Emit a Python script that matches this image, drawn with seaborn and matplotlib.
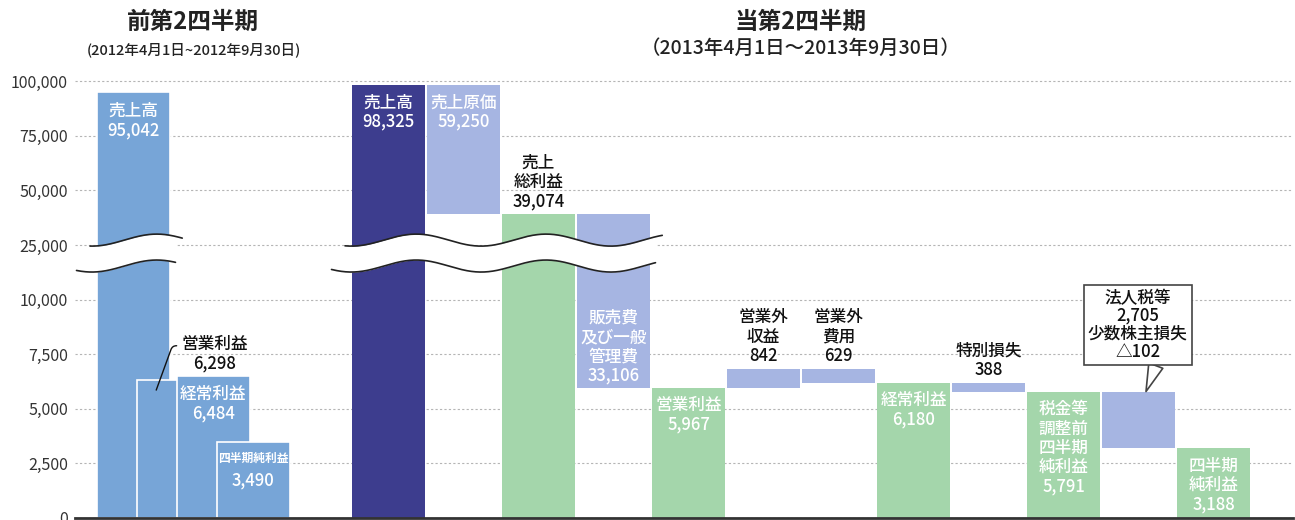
import numpy as np
import pandas as pd
import matplotlib
matplotlib.use('Agg')
import matplotlib.pyplot as plt
import matplotlib.transforms as mtransforms
import seaborn as sns

sns.set_theme(style='white')
plt.rcParams['font.family'] = ['Noto Sans CJK JP', 'DejaVu Sans']
plt.rcParams['axes.unicode_minus'] = False

# 前第2四半期 (2012/4/1~2012/9/30)
prev_items = ['売上高', '営業利益', '経常利益', '四半期純利益']
prev_values = [95042, 6298, 6484, 3490]

# 当第2四半期 (2013/4/1~2013/9/30)
cur_items = ['売上高', '売上原価', '売上総利益', '販売費及び一般管理費', '営業利益',
             '営業外収益', '営業外費用', '経常利益', '特別損失',
             '税金等調整前四半期純利益', '法人税等・少数株主損失', '四半期純利益']
cur_text = ['売上高', '売上原価', '売上\n総利益', '販売費\n及び一般\n管理費', '営業利益',
            '営業外\n収益', '営業外\n費用', '経常利益', '特別損失',
            '税金等\n調整前\n四半期\n純利益', '', '四半期\n純利益']
tax = 2705
minority = -102
cur_amounts = [98325, 59250, 39074, 33106, 5967, 842, 629, 6180, 388, 5791, tax + minority, 3188]
cur_kinds = ['total', 'minus', 'total', 'minus', 'total', 'plus', 'minus',
             'total', 'minus', 'total', 'minus', 'total']
# ラベルの置き方
cur_label_pos = ['in', 'in', 'above', 'in_bottom', 'in', 'above', 'above',
                 'in', 'above', 'in', 'callout', 'in']

yticks = [0, 2500, 5000, 7500, 10000, 25000, 50000, 75000, 100000]

STEEL = '#77a5d7'
NAVY = '#3d3d8e'
PERI = '#a6b5e2'
GREEN = '#a4d6ab'
BAR_W = 0.973


# 縦軸は 10,000 以下と 25,000 以上で目盛間隔が違う (途中を省略)
def fwd(v):
    v = np.asarray(v, dtype=float)
    return np.where(v <= 10000, v / 2500,
                    np.where(v <= 25000, 4 + (v - 10000) / 15000, 5 + (v - 25000) / 25000))


def inv(u):
    u = np.asarray(u, dtype=float)
    return np.where(u <= 4, u * 2500,
                    np.where(u <= 5, 10000 + (u - 4) * 15000, 25000 + (u - 5) * 25000))


# ウォーターフォールの上下端を計算
level = 0
bottoms, tops = [], []
for amt, kind in zip(cur_amounts, cur_kinds):
    if kind == 'total':
        b, t = 0, amt
        level = amt
    elif kind == 'plus':
        b, t = level, level + amt
        level = t
    else:
        b, t = level - amt, level
        level = b
    bottoms.append(b)
    tops.append(t)

cur_pos = np.arange(len(cur_items))
prev_pos = -3.4 + 0.533 * np.arange(len(prev_items))

cur_df = pd.DataFrame({'pos': cur_pos, 'item': cur_items, 'bottom': bottoms,
                       'top': tops, 'kind': cur_kinds})

fig = plt.figure(figsize=(12.95, 5.2), dpi=100)
ax = fig.add_axes([75 / 1295, 2 / 520, 1218 / 1295, 439.5 / 520])

# 合計の棒 (0から)
tot = cur_df[cur_df['kind'] == 'total'].copy()
tot['col'] = ['sales'] + ['profit'] * (len(tot) - 1)
sns.barplot(data=tot, x='pos', y='top', hue='col', order=list(cur_pos),
            hue_order=['sales', 'profit'], palette={'sales': NAVY, 'profit': GREEN},
            dodge=False, width=BAR_W, saturation=1, legend=False, ax=ax,
            linewidth=0, zorder=2)

# 増減の棒
fl = cur_df[cur_df['kind'] != 'total']
ax.bar(fl['pos'], fl['top'] - fl['bottom'], bottom=fl['bottom'], width=BAR_W,
       color=PERI, linewidth=0, zorder=2)

# 前第2四半期の棒 (重ねて描く)
ax.bar(prev_pos, prev_values, width=BAR_W, color=STEEL, edgecolor='white',
       linewidth=1.2, zorder=2)

ax.set_yscale('function', functions=(fwd, inv))
ax.set_ylim(0, float(inv(8.05)))
ax.set_xlim(-4.18, 12.06)
ax.set_yticks(yticks)
ax.set_yticklabels([f'{v:,}' for v in yticks])
ax.set_xticks([])
ax.set_xlabel('')
ax.set_ylabel('')
ax.tick_params(axis='y', length=0, pad=5, labelsize=11.5, labelcolor='#333333')
ax.yaxis.grid(True, linestyle=(0, (2, 2)), color='#b5b5b5', linewidth=0.8)
ax.set_axisbelow(True)
for s in ['left', 'top', 'right']:
    ax.spines[s].set_visible(False)
ax.spines['bottom'].set_color('#333333')
ax.spines['bottom'].set_linewidth(2)

# 省略の波線
WAVE_X0 = -3.09


def wave(x, c):
    return inv(c + 0.11 * np.cos(2 * np.pi * (x - WAVE_X0) / 1.73))


def draw_break(x0, x1):
    top_x = np.linspace(x0 - 0.58, x1 + 0.65, 300)
    bot_x = np.linspace(x0 - 0.76, x1 + 0.56, 300)
    fx = np.linspace(max(top_x[0], bot_x[0]), min(top_x[-1], bot_x[-1]), 300)
    ax.fill_between(fx, wave(fx, 4.615), wave(fx, 5.09), color='white', lw=0, zorder=3)
    ax.plot(top_x, wave(top_x, 5.09), color='#222222', lw=1.2, zorder=4)
    ax.plot(bot_x, wave(bot_x, 4.615), color='#222222', lw=1.2, zorder=4)


big_prev = prev_pos[np.array(prev_values) > 25000]
draw_break(big_prev.min(), big_prev.max())
big_cur = cur_pos[np.array(tops) > 25000]
draw_break(big_cur.min(), big_cur.max())

LS = 1.1
FW = 'medium'

# 前第2四半期のラベル
ax.annotate(f'{prev_items[0]}\n{prev_values[0]:,}', xy=(prev_pos[0], prev_values[0]),
            xytext=(0, -7), textcoords='offset points', ha='center', va='top',
            color='white', fontsize=12, fontweight=FW, linespacing=LS, zorder=5)
ax.annotate(f'{prev_items[1]}\n{prev_values[1]:,}', xy=(prev_pos[1] - 0.23, prev_values[1] * 0.93),
            xytext=(42, 26), textcoords='offset points', ha='center', va='center',
            color='#111111', fontsize=12, fontweight=FW, linespacing=LS, zorder=5,
            arrowprops=dict(arrowstyle='-', color='#111111', lw=1, relpos=(0, 0.72),
                            shrinkA=1, shrinkB=0,
                            connectionstyle='angle,angleA=0,angleB=70,rad=4'))
ax.annotate(f'{prev_items[2]}\n{prev_values[2]:,}', xy=(prev_pos[2], prev_values[2]),
            xytext=(0, -6), textcoords='offset points', ha='center', va='top',
            color='white', fontsize=12, fontweight=FW, linespacing=LS, zorder=5)
ax.annotate(prev_items[3], xy=(prev_pos[3], prev_values[3]),
            xytext=(0, -7), textcoords='offset points', ha='center', va='top',
            color='white', fontsize=8.5, fontweight='bold', zorder=5)
ax.annotate(f'{prev_values[3]:,}', xy=(prev_pos[3], prev_values[3]),
            xytext=(0, -21), textcoords='offset points', ha='center', va='top',
            color='white', fontsize=12, fontweight=FW, zorder=5)

# 当第2四半期のラベル
for i in range(len(cur_items)):
    x = cur_pos[i]
    label = f'{cur_text[i]}\n{cur_amounts[i]:,}'
    where = cur_label_pos[i]
    if where == 'in':
        ax.annotate(label, xy=(x, tops[i]), xytext=(0, -6), textcoords='offset points',
                    ha='center', va='top', color='white', fontsize=12, fontweight=FW,
                    linespacing=LS, zorder=5)
    elif where == 'in_bottom':
        ax.annotate(label, xy=(x, bottoms[i]), xytext=(0, 2), textcoords='offset points',
                    ha='center', va='bottom', color='white', fontsize=12, fontweight=FW,
                    linespacing=LS, zorder=5)
    elif where == 'above':
        ax.annotate(label, xy=(x, tops[i]), xytext=(0, 3), textcoords='offset points',
                    ha='center', va='bottom', color='#111111', fontsize=12, fontweight=FW,
                    linespacing=LS, zorder=5)
    else:
        ax.annotate(f'法人税等\n{tax:,}\n少数株主損失\n△{abs(minority)}',
                    xy=(x + 0.1, tops[i]), xytext=(-6, 48), textcoords='offset points',
                    ha='center', va='center', color='#111111', fontsize=12, fontweight=FW,
                    linespacing=1.0, zorder=6,
                    bbox=dict(boxstyle='square,pad=0.25', fc='white', ec='#444444', lw=1.2),
                    arrowprops=dict(arrowstyle='wedge,tail_width=0.9,shrink_factor=0.5',
                                    fc='white', ec='#444444', lw=1.2, relpos=(0.7, 0),
                                    shrinkA=0, shrinkB=0))

# 見出し
tr = mtransforms.blended_transform_factory(ax.transData, fig.transFigure)
ax.text(prev_pos.mean(), 1 - 22 / 520, '前第2四半期', transform=tr, ha='center',
        va='center', fontsize=17, fontweight='bold', color='#222222')
ax.text(prev_pos.mean(), 1 - 50 / 520, '(2012年4月1日~2012年9月30日)', transform=tr,
        ha='center', va='center', fontsize=10.5, fontweight=FW, color='#222222')
ax.text(cur_pos.mean(), 1 - 22 / 520, '当第2四半期', transform=tr, ha='center',
        va='center', fontsize=17, fontweight='bold', color='#222222')
ax.text(cur_pos.mean(), 1 - 48 / 520, '（2013年4月1日～2013年9月30日）', transform=tr,
        ha='center', va='center', fontsize=14, fontweight=FW, color='#222222')

fig.savefig('out.png', dpi=100)
